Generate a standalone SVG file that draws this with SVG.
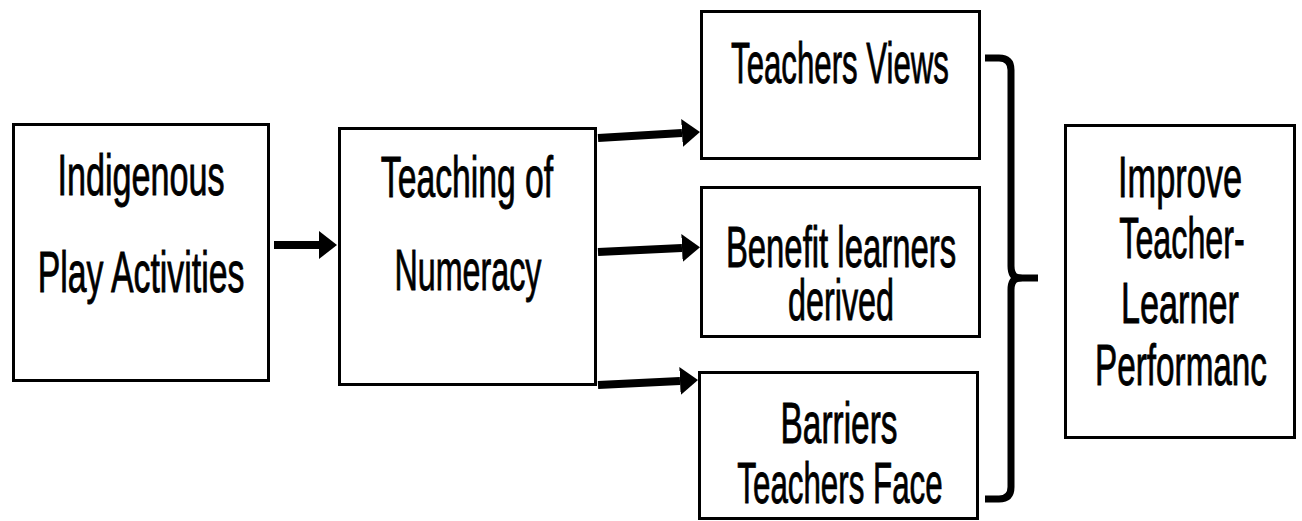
<svg xmlns="http://www.w3.org/2000/svg" width="1302" height="521" viewBox="0 0 1302 521">
  <style>
    .box { fill: #ffffff; stroke: #000000; stroke-width: 3; }
    .lbl { font-family: "Liberation Sans", Arial, sans-serif; font-size: 58px; fill: #000000; stroke: #000000; stroke-width: 0.9; text-anchor: middle; }
    .link { fill: none; stroke: #000000; stroke-width: 8; }
    .brace { fill: none; stroke: #000000; stroke-width: 7; stroke-linecap: butt; stroke-linejoin: round; }
  </style>
  <defs>
    <marker id="head" markerUnits="userSpaceOnUse" markerWidth="20" markerHeight="30" refX="0" refY="14" orient="auto">
      <path d="M0,0 L18,14 L0,28 Z" fill="#000000"/>
    </marker>
  </defs>
  <rect width="1302" height="521" fill="#ffffff"/>

  <g id="connectors">
    <path class="link" d="M274,245 L319,245" marker-end="url(#head)"/>
    <path class="link" d="M598,138 L682,133" marker-end="url(#head)"/>
    <path class="link" d="M598,252 L682,248" marker-end="url(#head)"/>
    <path class="link" d="M598,385 L680,381" marker-end="url(#head)"/>
    <!-- curly brace gathering the three outcomes -->
    <path class="brace" d="M985,58 H999 Q1011,58 1011,70 V266 Q1011,278 1020,278 Q1011,278 1011,290 V487 Q1011,499 999,499 H985"/>
    <path class="brace" d="M1014,278 H1038" stroke-width="8"/>
  </g>

  <!-- labels use a narrowed sans: each line is squeezed horizontally -->
  <g id="node-play">
    <rect class="box" x="13.5" y="124.5" width="255" height="256"/>
    <text class="lbl" transform="translate(141,195) scale(0.589,1)">Indigenous</text>
    <text class="lbl" transform="translate(141,292) scale(0.583,1)">Play Activities</text>
  </g>

  <g id="node-numeracy">
    <rect class="box" x="339.5" y="128.5" width="256" height="256"/>
    <text class="lbl" transform="translate(467,197) scale(0.581,1)">Teaching of</text>
    <text class="lbl" transform="translate(468,290) scale(0.556,1)">Numeracy</text>
  </g>

  <g id="node-views">
    <rect class="box" x="701.5" y="11.5" width="278" height="147"/>
    <text class="lbl" transform="translate(840,83) scale(0.538,1)">Teachers Views</text>
  </g>

  <g id="node-benefit">
    <rect class="box" x="701.5" y="187.5" width="278" height="149"/>
    <text class="lbl" transform="translate(841,267) scale(0.567,1)">Benefit learners</text>
    <text class="lbl" transform="translate(841,320) scale(0.557,1)">derived</text>
  </g>

  <g id="node-barriers">
    <rect class="box" x="699.5" y="372.5" width="278" height="146"/>
    <text class="lbl" transform="translate(839,443) scale(0.576,1)">Barriers</text>
    <text class="lbl" transform="translate(840,503) scale(0.540,1)">Teachers Face</text>
  </g>

  <g id="node-performance">
    <rect class="box" x="1065.5" y="125.5" width="229" height="312"/>
    <text class="lbl" transform="translate(1180,197) scale(0.592,1)">Improve</text>
    <text class="lbl" transform="translate(1182,258) scale(0.556,1)">Teacher-</text>
    <text class="lbl" transform="translate(1180,323) scale(0.590,1)">Learner</text>
    <text class="lbl" transform="translate(1181,385) scale(0.574,1)">Performanc</text>
  </g>
</svg>
